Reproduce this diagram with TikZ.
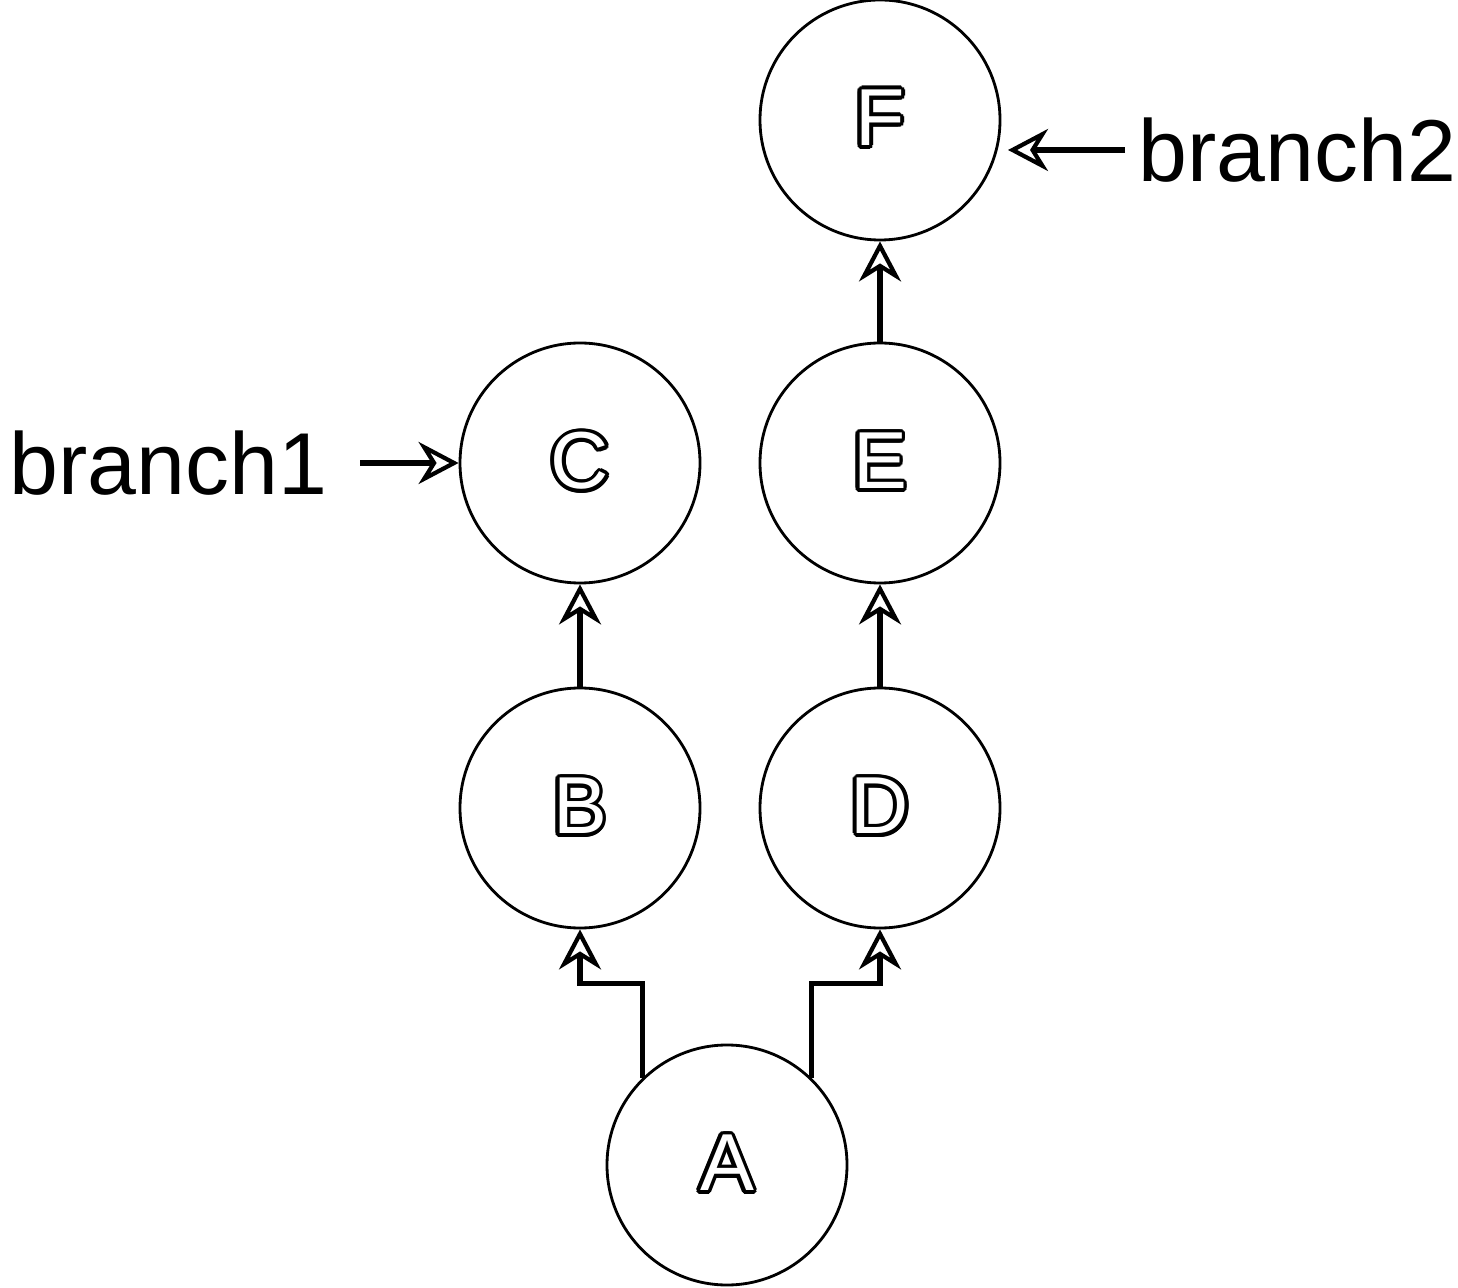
\documentclass[tikz,border=0pt]{standalone}
\usepackage{fontspec}
\setmainfont{Liberation Sans}
\usepackage{contour}
\usetikzlibrary{arrows.meta}
\contourlength{1.1pt}
\newcommand{\hollow}[1]{\contour{black}{\textcolor{white}{#1}}}

\begin{document}
\begin{tikzpicture}[
    commit/.style={draw, circle, line width=0.8pt, minimum size=2.4cm, inner sep=0pt, font=\fontsize{23}{28}\selectfont},
    tag/.style={font=\fontsize{25}{30}\selectfont, inner sep=0pt},
    link/.style={line width=1.6pt, -{Stealth[open, length=4mm, width=4.2mm, inset=1.3mm, line width=1.2pt]}}
  ]
    \useasboundingbox (0,0) rectangle (14.58,12.87);

    \node[commit] (A) at (7.27,1.22) {\hollow{A}};
    \node[commit] (B) at (5.80,4.79) {\hollow{B}};
    \node[commit] (C) at (5.80,8.24) {\hollow{C}};
    \node[commit] (D) at (8.80,4.79) {\hollow{D}};
    \node[commit] (E) at (8.80,8.24) {\hollow{E}};
    \node[commit] (F) at (8.80,11.67) {\hollow{F}};

    \node[tag, anchor=east] (b1) at (3.28,8.24) {branch1};
    \node[tag, anchor=west] (b2) at (11.38,11.37) {branch2};
    \coordinate (b1end) at (3.60,8.24);
    \coordinate (b2end) at (11.25,11.37);
    \coordinate (b2tip) at (10.08,11.37);

    \draw[link] (A.134) -- ++(0,0.94) -| (B.south);
    \draw[link] (A.46) -- ++(0,0.94) -| (D.south);
    \draw[link] (B) -- (C);
    \draw[link] (D) -- (E);
    \draw[link] (E) -- (F);

    \draw[link] (b1end) -- (C.west);
    \draw[link] (b2end) -- (b2tip);
\end{tikzpicture}
\end{document}
